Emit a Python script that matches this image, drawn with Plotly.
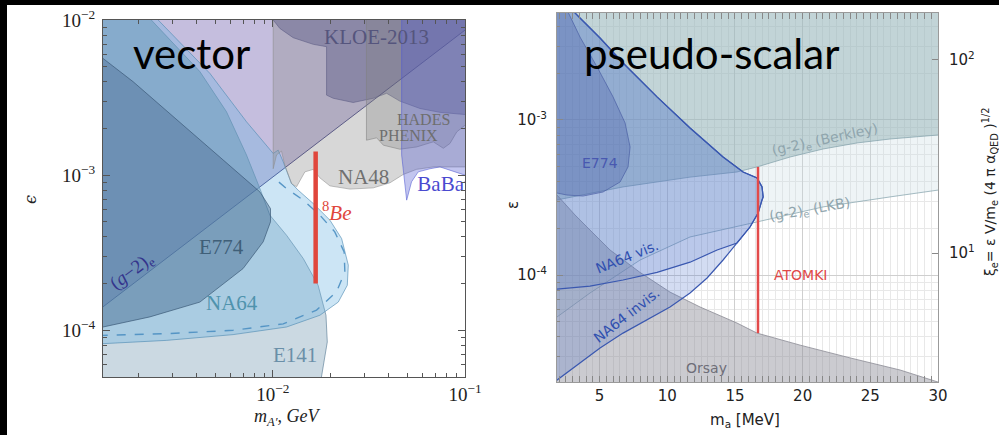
import numpy as np
import plotly.graph_objects as go

# ================= LEFT PANEL: vector (m in GeV, epsilon) =================
g2_m = [1.0e-3, 0.1]
g2_eps = [1.10e-4, 8.61e-3]

e141_m = [2.33e-3, 4.17e-3, 5.74e-3, 7.29e-3, 8.56e-3, 9.65e-3, 1.178e-2, 1.44e-2, 1.72e-2, 1.89e-2, 1.92e-2, 1.79e-2]
e141_eps = [1.0e-2, 4.65e-3, 2.56e-3, 1.35e-3, 8.20e-4, 5.52e-4, 4.10e-4, 2.90e-4, 1.95e-4, 1.25e-4, 8.41e-5, 5.0e-5]

na64_m = [2.53e-3, 4.70e-3, 7.29e-3, 9.46e-3, 1.004e-2, 1.066e-2, 1.132e-2, 1.25e-2, 1.355e-2, 1.623e-2,
          1.981e-2, 2.28e-2, 2.47e-2, 2.44e-2, 2.19e-2, 1.757e-2, 1.178e-2, 6.21e-3, 2.79e-3, 1.306e-3]
na64_eps = [1.0e-2, 4.53e-3, 2.21e-3, 1.49e-3, 1.38e-3, 1.45e-3, 1.22e-3, 8.84e-4, 8.0e-4, 6.56e-4,
            5.13e-4, 3.90e-4, 2.63e-4, 1.95e-4, 1.52e-4, 1.25e-4, 1.05e-4, 9.38e-5, 8.61e-5, 8.20e-5]

na64_dash_m = [1.0e-3, 2.79e-3, 6.21e-3, 1.132e-2, 1.688e-2, 2.146e-2, 2.37e-2, 2.35e-2, 2.10e-2, 1.757e-2, 1.44e-2, 1.178e-2, 1.045e-2]
na64_dash_eps = [9.2e-5, 9.51e-5, 1.0e-4, 1.10e-4, 1.35e-4, 1.77e-4, 2.38e-4, 3.20e-4, 4.31e-4, 5.52e-4, 6.90e-4, 8.20e-4, 9.29e-4]

e774_m = [1.0e-3, 1.306e-3, 1.875e-3, 3.41e-3, 6.21e-3, 8.56e-3, 9.72e-3, 9.72e-3, 8.91e-3, 7.00e-3, 4.17e-3, 2.29e-3, 1.306e-3, 1.0e-3]
e774_eps = [7.3e-3, 5.66e-3, 4.0e-3, 2.10e-3, 1.10e-3, 7.80e-4, 6.09e-4, 5.00e-4, 3.72e-4, 2.50e-4, 1.52e-4, 1.22e-4, 1.05e-4, 9.8e-5]

na48_m = [1.004e-2, 1.004e-2, 1.045e-2, 1.109e-2, 1.154e-2, 1.25e-2, 1.328e-2, 1.41e-2, 1.468e-2, 1.623e-2,
          1.757e-2, 1.981e-2, 2.52e-2, 3.33e-2, 4.07e-2, 4.77e-2, 5.60e-2, 6.84e-2, 0.1]
na48_eps = [1.0e-2, 1.10e-3, 1.35e-3, 1.43e-3, 1.16e-3, 8.84e-4, 8.41e-4, 9.52e-4, 1.05e-3, 1.09e-3,
            9.61e-4, 8.53e-4, 8.13e-4, 8.28e-4, 8.93e-4, 1.01e-3, 1.09e-3, 1.13e-3, 1.13e-3]

kloe_m = [1.004e-2, 1.087e-2, 1.276e-2, 1.623e-2, 1.903e-2, 1.903e-2, 2.062e-2, 2.62e-2, 3.33e-2, 3.91e-2, 4.58e-2, 5.83e-2, 7.41e-2, 0.1]
kloe_eps = [1.0e-2, 8.83e-3, 7.69e-3, 6.97e-3, 6.73e-3, 3.28e-3, 3.13e-3, 2.94e-3, 3.13e-3, 3.37e-3, 3.00e-3, 2.69e-3, 2.54e-3, 2.46e-3]

hades_m = [3.07e-2, 3.07e-2, 3.47e-2, 3.76e-2, 4.58e-2, 5.60e-2, 6.84e-2, 7.71e-2, 8.35e-2, 9.06e-2, 0.1]
hades_eps = [1.0e-2, 1.68e-3, 1.74e-3, 1.56e-3, 1.47e-3, 1.52e-3, 1.64e-3, 1.49e-3, 1.60e-3, 1.90e-3, 2.10e-3]

babar_m = [4.68e-2, 4.68e-2, 4.97e-2, 5.27e-2, 5.71e-2, 6.58e-2, 7.41e-2, 8.35e-2, 0.1]
babar_eps = [1.0e-2, 1.35e-3, 6.90e-4, 9.06e-4, 1.05e-3, 1.10e-3, 1.13e-3, 1.08e-3, 1.00e-3]

be8_m = [1.67e-2, 1.67e-2]
be8_eps = [1.42e-3, 2.0e-4]

left_xticks = [1e-2, 1e-1]
left_xticktext = ["10<sup>−2</sup>", "10<sup>−1</sup>"]
left_yticks = [1e-4, 1e-3, 1e-2]
left_yticktext = ["10<sup>−4</sup>", "10<sup>−3</sup>", "10<sup>−2</sup>"]

# ================= RIGHT PANEL: pseudo-scalar (m in MeV) =================
berk_m = [1.85, 6.73, 11.68, 15.15, 16.63, 19.07, 21.51, 24.02, 26.46, 30.0]
berk_eps = [3.05e-4, 3.70e-4, 4.28e-4, 4.62e-4, 4.98e-4, 5.77e-4, 6.50e-4, 7.11e-4, 7.54e-4, 8.0e-4]

lkb_m = [1.85, 4.29, 7.99, 11.68, 16.63, 21.51, 26.46, 30.0]
lkb_eps = [5.36e-5, 7.66e-5, 1.25e-4, 1.76e-4, 2.20e-4, 2.75e-4, 3.19e-4, 3.53e-4]

orsay_m = [1.85, 3.18, 4.29, 5.77, 7.98, 10.2, 12.42, 15.15, 16.63, 19.81, 23.51, 27.2, 30.0]
orsay_eps = [3.28e-4, 2.44e-4, 1.95e-4, 1.45e-4, 1.04e-4, 7.76e-5, 6.22e-5, 4.90e-5, 4.22e-5, 3.53e-5, 2.92e-5, 2.44e-5, 2.04e-5]

na64u_m = [2.8, 3.18, 3.55, 5.03, 6.73, 9.24, 11.68, 14.12, 15.60, 16.63, 17.0, 17.08, 17.0, 16.71, 16.11, 15.15]
na64u_eps = [5.4e-3, 4.90e-3, 4.55e-3, 3.38e-3, 2.33e-3, 1.41e-3, 8.88e-4, 5.77e-4, 4.62e-4, 4.23e-4, 3.70e-4, 3.19e-4, 3.05e-4, 2.51e-4, 2.04e-4, 1.61e-4]

invis_m = [14.12, 12.94, 11.68, 10.20, 8.50, 6.73, 5.03, 3.33, 1.85]
invis_eps = [1.25e-4, 9.57e-5, 7.66e-5, 6.22e-5, 5.13e-5, 4.22e-5, 3.38e-5, 2.62e-5, 2.10e-5]

vis_m = [13.68, 11.68, 9.24, 6.73, 4.29, 1.85]
vis_eps = [1.45e-4, 1.21e-4, 1.04e-4, 9.29e-5, 8.49e-5, 8.12e-5]

e774r_m = [2.66, 3.55, 4.81, 5.99, 6.88, 7.25, 7.10, 6.51, 5.25, 3.77, 2.59, 1.85]
e774r_eps = [4.98e-3, 3.43e-3, 2.20e-3, 1.41e-3, 9.57e-4, 6.70e-4, 4.98e-4, 3.98e-4, 3.43e-4, 3.23e-4, 3.28e-4, 3.38e-4]

atomki_m = [16.7, 16.7]
atomki_eps = [4.98e-4, 4.22e-5]

right_xticks = [5, 10, 15, 20, 25, 30]
right_yticks = [1e-4, 1e-3]
right_yticktext = ["10<sup>-4</sup>", "10<sup>-3</sup>"]
xi_ticks = [10, 100]
xi_ticktext = ["10<sup>1</sup>", "10<sup>2</sup>"]

# ---------------- figure ----------------
fig = go.Figure()

# closure limits (outside of visible ranges)
LM0, LM1, LE0, LE1 = 8e-4, 0.13, 2e-5, 1.5e-2
RM0, RM1, RE0, RE1 = 0.5, 32.0, 1e-5, 8e-3


def region(xs, ys, cx, cy, fill, line, lw, xa, ya, dash=None):
    fig.add_trace(go.Scatter(
        x=list(xs) + list(cx), y=list(ys) + list(cy), mode="lines", fill="toself",
        fillcolor=fill, line=dict(color=line, width=lw, dash=dash),
        xaxis=xa, yaxis=ya, hoverinfo="skip", showlegend=False))


def curve(xs, ys, color, width, xa, ya, dash=None):
    fig.add_trace(go.Scatter(
        x=xs, y=ys, mode="lines", line=dict(color=color, width=width, dash=dash),
        xaxis=xa, yaxis=ya, hoverinfo="skip", showlegend=False))


# ---- left panel regions ----
region(g2_m, g2_eps, [LM1, LM1, LM0, LM0], [g2_eps[-1], LE1, LE1, g2_eps[0]],
       "rgba(140,125,190,0.50)", "rgba(50,50,120,0.9)", 1.0, "x", "y")
# upper-left beam-dump area (between the E141 edge and the E774 upper edge)
region(e141_m[:5] + e774_m[5::-1], e141_eps[:5] + e774_eps[5::-1], [LM0, LM0], [LE1, LE1],
       "rgba(50,90,130,0.28)", "rgba(0,0,0,0)", 0, "x", "y")
region(e141_m, e141_eps, [e141_m[-1], LM0, LM0, e141_m[0]], [LE0, LE0, LE1, LE1],
       "rgba(140,170,190,0.45)", "rgba(90,125,150,0.8)", 0.8, "x", "y")
region(na64_m, na64_eps, [LM0, LM0, na64_m[0]], [na64_eps[-1], LE1, LE1],
       "rgba(110,180,225,0.35)", "rgba(80,140,180,0.8)", 0.8, "x", "y")
curve(na64_dash_m, na64_dash_eps, "rgba(80,145,195,0.95)", 1.4, "x", "y", dash="dash")
region(e774_m, e774_eps, [], [],
       "rgba(50,90,130,0.40)", "rgba(50,80,110,0.8)", 0.8, "x", "y")
region(na48_m, na48_eps, [LM1, LM1], [na48_eps[-1], LE1],
       "rgba(140,140,140,0.35)", "rgba(140,140,140,0.8)", 0.7, "x", "y")
region(kloe_m, kloe_eps, [LM1, LM1], [kloe_eps[-1], LE1],
       "rgba(70,70,120,0.35)", "rgba(90,90,130,0.8)", 0.7, "x", "y")
region(hades_m, hades_eps, [LM1, LM1], [hades_eps[-1], LE1],
       "rgba(130,130,130,0.30)", "rgba(130,130,130,0.8)", 0.7, "x", "y")
region(babar_m, babar_eps, [LM1, LM1], [babar_eps[-1], LE1],
       "rgba(80,90,210,0.35)", "rgba(80,90,210,0.8)", 0.7, "x", "y")
curve(be8_m, be8_eps, "#e0463c", 4.5, "x", "y")

fig.add_trace(go.Scatter(x=[0.0565], y=[8.6e-4], mode="text", text=["BaBar"],
                         textposition="middle right", cliponaxis=True,
                         textfont=dict(family="Liberation Serif", size=21, color="#4a4ad0"),
                         xaxis="x", yaxis="y", hoverinfo="skip", showlegend=False))

# ---- right panel regions ----
region(lkb_m, lkb_eps, [RM1, RM1, RM0, RM0], [lkb_eps[-1], RE1, RE1, lkb_eps[0]],
       "rgba(200,220,225,0.30)", "rgba(130,160,170,0.8)", 0.9, "x2", "y2")
region(berk_m, berk_eps, [RM1, RM1, RM0, RM0], [berk_eps[-1], RE1, RE1, berk_eps[0]],
       "rgba(140,170,175,0.44)", "rgba(130,160,170,0.8)", 0.9, "x2", "y2")
region(orsay_m, orsay_eps, [RM1, RM1, RM0, RM0], [orsay_eps[-1], RE0, RE0, orsay_eps[0]],
       "rgba(140,140,150,0.45)", "rgba(140,140,150,0.9)", 0.9, "x2", "y2")
region(na64u_m + invis_m, na64u_eps + invis_eps, [RM0, RM0, na64u_m[0]], [invis_eps[-1], RE1, RE1],
       "rgba(70,110,200,0.24)", "#3a58b0", 1.2, "x2", "y2")
region(na64u_m + vis_m, na64u_eps + vis_eps, [RM0, RM0, na64u_m[0]], [vis_eps[-1], RE1, RE1],
       "rgba(70,110,200,0.18)", "#3a58b0", 1.2, "x2", "y2")
region(e774r_m, e774r_eps, [RM0, RM0, e774r_m[0]], [e774r_eps[-1], RE1, RE1],
       "rgba(60,80,160,0.28)", "rgba(70,90,160,0.8)", 0.8, "x2", "y2")
curve(atomki_m, atomki_eps, "#e24a4a", 2.5, "x2", "y2")

# dummy invisible trace for secondary axis
fig.add_trace(go.Scatter(x=[right_xticks[0], right_xticks[-1]], y=xi_ticks, mode="markers",
                         marker=dict(opacity=0), xaxis="x2", yaxis="y3",
                         hoverinfo="skip", showlegend=False))

# ---------------- annotations ----------------
ann = []
SERIF = "Liberation Serif"
SANS = "DejaVu Sans"

left_labels = [
    ("KLOE-2013", 0.0348, 7.77e-3, "#55557d", 21, 0),
    ("NA48", 0.0295, 9.75e-4, "#707070", 21, 0),
    ("HADES", 0.0607, 2.29e-3, "#6e6e6e", 16, 0),
    ("PHENIX", 0.0507, 1.81e-3, "#6e6e6e", 16, 0),
    ("E774", 5.41e-3, 3.44e-4, "#3f5f78", 21, 0),
    ("NA64", 6.10e-3, 1.49e-4, "#4f93ad", 21, 0),
    ("E141", 1.30e-2, 6.90e-5, "#6a8fa8", 21, 0),
    ("(<i>g</i>−2)<sub>e</sub>", 1.84e-3, 2.38e-4, "#34348c", 19, -37),
    ("<sup>8</sup><i>Be</i>", 2.15e-2, 5.80e-4, "#e0463c", 21, 0),
]
for t, mx, ey, c, s, a in left_labels:
    ann.append(dict(text=t, x=np.log10(mx), y=np.log10(ey), xref="x", yref="y", showarrow=False,
                    xanchor="center", yanchor="middle",
                    font=dict(family=SERIF, size=s, color=c), textangle=a))

right_labels = [
    ("(g-2)<sub>e</sub> (Berkley)", 21.66, 7.43e-4, "#8fa5ad", 14, -12, "center"),
    ("(g-2)<sub>e</sub> (LKB)", 20.55, 2.62e-4, "#8fa5ad", 14, -10, "center"),
    ("ATOMKI", 17.7, 1.0e-4, "#e04848", 14, 0, "left"),
    ("NA64 vis.", 7.0, 1.31e-4, "#3050b0", 14, -22, "center"),
    ("NA64 invis.", 7.0, 5.52e-5, "#3050b0", 14, -38, "center"),
    ("Orsay", 12.91, 2.50e-5, "#6e6e78", 14, 0, "center"),
    ("E774", 5.03, 5.26e-4, "#4858b0", 14, 0, "center"),
]
for t, mx, ey, c, s, a, xa in right_labels:
    ann.append(dict(text=t, x=mx, y=np.log10(ey), xref="x2", yref="y2", showarrow=False,
                    xanchor=xa, yanchor="middle", font=dict(family=SANS, size=s, color=c), textangle=a))

# axis titles and panel titles (paper coords)
W, H = 999, 435
def px(x):
    return x / W
def py(y):
    return 1 - y / H

def paper_text(text, x, y, font, angle=0):
    return dict(text=text, x=px(x), y=py(y), xref="paper", yref="paper", showarrow=False,
                xanchor="center", yanchor="middle", textangle=angle, font=font)

ann += [
    paper_text("<i>m</i><sub><i>A′</i></sub><i>, GeV</i>", 287, 417, dict(family=SERIF, size=18, color="#222")),
    paper_text("<i>ϵ</i>", 30, 200, dict(family="DejaVu Serif", size=16, color="#222"), -90),
    paper_text("m<sub>a</sub> [MeV]", 745, 420, dict(family=SANS, size=15, color="#222")),
    paper_text("ε", 513, 205, dict(family=SANS, size=15, color="#222"), -90),
    paper_text("ξ<sub>e</sub>= ε V/m<sub>e</sub> (4 π α<sub>QED</sub> )<sup>1/2</sup>", 990, 192,
               dict(family=SANS, size=14, color="#222"), -90),
    paper_text("vector", 191, 53, dict(family="Lato", size=42, color="#000")),
    paper_text("pseudo-scalar", 711, 53, dict(family="Lato", size=42, color="#000")),
]

# ---------------- axes ----------------
lminor_x = [k * 10.0 ** e for e in (-3, -2) for k in range(2, 10)]
lminor_y = [k * 10.0 ** e for e in (-5, -4, -3) for k in range(2, 10)]
rminor_y = [k * 10.0 ** e for e in (-5, -4, -3) for k in range(2, 10)]

left_frame = dict(showline=True, linecolor="#555", linewidth=1.2, mirror="allticks", ticks="inside",
                  ticklen=7, tickcolor="#555", showgrid=False, zeroline=False, automargin=False,
                  tickfont=dict(family=SERIF, size=19, color="#222"))
right_frame = dict(showline=True, linecolor="#9a9a9a", linewidth=1.2, ticks="inside",
                   ticklen=6, tickcolor="#888", zeroline=False, showgrid=True, gridcolor="#cfcfcf",
                   gridwidth=1, automargin=False, tickfont=dict(family=SANS, size=15, color="#222"))

fig.update_layout(
    width=W, height=H, margin=dict(l=0, r=0, t=0, b=0, pad=0), autosize=False,
    paper_bgcolor="white", plot_bgcolor="white", showlegend=False,
    xaxis=dict(domain=[103 / W, 465 / W], anchor="y", type="log", range=[-2.884, -1.0],
               tickmode="array", tickvals=left_xticks, ticktext=left_xticktext,
               minor=dict(tickvals=lminor_x, ticks="inside", ticklen=4, tickcolor="#555"), **left_frame),
    yaxis=dict(domain=[1 - 377 / H, 1 - 20 / H], anchor="x", type="log", range=[-4.301, -2.0],
               tickmode="array", tickvals=left_yticks, ticktext=left_yticktext, ticklabelstandoff=3,
               minor=dict(tickvals=lminor_y, ticks="inside", ticklen=4, tickcolor="#555"), **left_frame),
    xaxis2=dict(domain=[557 / W, 938 / W], anchor="y2", range=[1.85, 30.0], tickmode="array",
                tickvals=right_xticks, mirror="allticks",
                minor=dict(dtick=0.5, tick0=0, ticks="inside", ticklen=3, tickcolor="#888",
                           showgrid=True, gridcolor="#e8e8e8"), **right_frame),
    yaxis2=dict(domain=[1 - 382 / H, 1 - 13 / H], anchor="x2", type="log", range=[-4.69, -2.31],
                tickmode="array", tickvals=right_yticks, ticktext=right_yticktext, mirror=True,
                ticklabelstandoff=6,
                minor=dict(tickvals=rminor_y, ticks="inside", ticklen=3, tickcolor="#888",
                           showgrid=True, gridcolor="#e8e8e8"), **right_frame),
    yaxis3=dict(overlaying="y2", anchor="x2", side="right", type="log", range=[0.332, 2.243],
                tickmode="array", tickvals=xi_ticks, ticktext=xi_ticktext, ticks="inside", ticklen=6,
                tickcolor="#888", showgrid=False, showline=False, zeroline=False, automargin=False,
                ticklabelstandoff=10, tickfont=dict(family=SANS, size=15, color="#222")),
    annotations=ann,
    shapes=[
        dict(type="rect", xref="paper", yref="paper", x0=0, x1=1, y0=1 - 5 / H, y1=1,
             fillcolor="black", line=dict(width=0), layer="above"),
        dict(type="rect", xref="paper", yref="paper", x0=0, x1=7 / W, y0=0, y1=1,
             fillcolor="black", line=dict(width=0), layer="above"),
    ],
)

fig.write_html("out.html")
